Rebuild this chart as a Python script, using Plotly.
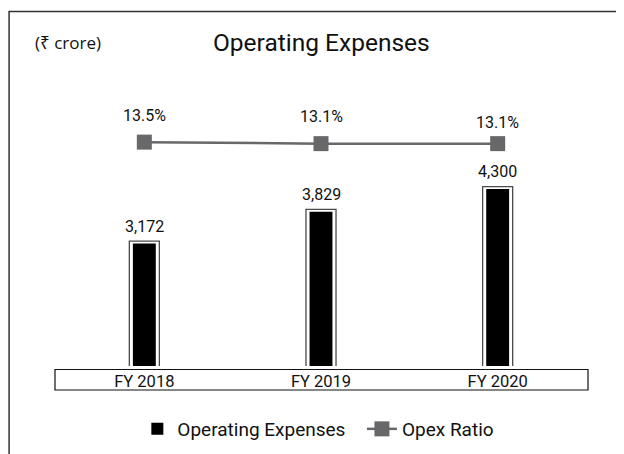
import plotly.graph_objects as go

categories = ["FY 2018", "FY 2019", "FY 2020"]
opex = [3172, 3829, 4300]
opex_ratio = [13.5, 13.1, 13.1]

FONT = "Roboto, Noto Sans, sans-serif"
UNIT_FONT = "Open Sans, Noto Sans, DejaVu Sans, sans-serif"
INK = "#111111"
GREY = "#68686b"

fig = go.Figure()

# main black bars (carry the legend entry)
fig.add_trace(go.Bar(
    x=categories, y=opex, name="Operating Expenses",
    width=0.13, marker=dict(color="#000000", line=dict(width=0)),
    legend="legend",
))
# same bars drawn with a white outline to create the inset gap
fig.add_trace(go.Bar(
    x=categories, y=opex, name="Operating Expenses",
    width=0.158, marker=dict(color="#000000", line=dict(color="#ffffff", width=5)),
    showlegend=False, hoverinfo="skip",
))
# thin outer frame around each bar
fig.add_trace(go.Bar(
    x=categories, y=opex, name="frame",
    width=0.17, marker=dict(color="rgba(0,0,0,0)", line=dict(color="#4a4a4a", width=1.3)),
    showlegend=False, hoverinfo="skip",
))
fig.add_trace(go.Scatter(
    x=categories, y=opex_ratio, name="Opex Ratio", yaxis="y2",
    mode="lines+markers",
    line=dict(color=GREY, width=2.5),
    marker=dict(symbol="square", size=15, color=GREY),
    legend="legend2",
))

# value labels
for c, v in zip(categories, opex):
    fig.add_annotation(x=c, y=v, text=f"{v:,}", showarrow=False, yshift=15,
                       font=dict(size=16, color=INK, family=FONT))
ratio_label_shift = [27, 27, 21]
for c, r, s in zip(categories, opex_ratio, ratio_label_shift):
    fig.add_annotation(x=c, y=r, yref="y2", text=f"{r:.1f}%", showarrow=False,
                       yshift=s, font=dict(size=16, color=INK, family=FONT))

# page offset (body margin) and layout in reference pixels
OFF = 8
W, H = 616, 446
L, R, T, B = 47.5, 37.5, 52, 88
pw, ph = W - L - R, H - T - B

def px(x):
    return (x - OFF - L) / pw

def py(y):
    return (H - B - (y - OFF)) / ph

shapes = [
    # outer frame
    dict(type="rect", xref="paper", yref="paper", x0=px(8.5), x1=px(640), y0=py(480), y1=py(11.5),
         line=dict(color="#333333", width=1.5), fillcolor="rgba(0,0,0,0)", layer="below"),
    # category box
    dict(type="rect", xref="paper", yref="paper", x0=px(54.5), x1=px(588.5), y0=py(390), y1=py(369.5),
         line=dict(color=INK, width=1.2), fillcolor="rgba(0,0,0,0)"),
]

fig.add_annotation(xref="paper", yref="paper", x=px(321.5), y=py(43), xanchor="center", yanchor="middle",
                   text="Operating Expenses", showarrow=False,
                   font=dict(size=24.5, color=INK, family=FONT))
fig.add_annotation(xref="paper", yref="paper", x=px(32), y=py(43), xanchor="left", yanchor="middle",
                   text="(₹ crore)", showarrow=False,
                   font=dict(size=17, color=INK, family=UNIT_FONT))

K = 0.04837  # px per unit
Y0 = 590

legend_font = dict(size=19, family=FONT, color=INK)
fig.update_layout(
    width=W, height=H,
    margin=dict(l=L, r=R, t=T, b=B, autoexpand=False),
    paper_bgcolor="white", plot_bgcolor="white",
    barmode="overlay",
    shapes=shapes,
    font=dict(family=FONT, color=INK),
    xaxis=dict(showgrid=False, showline=False, zeroline=False, ticks="", automargin=False,
               tickfont=dict(size=16.5, family=FONT, color=INK), ticklabelstandoff=3),
    yaxis=dict(range=[Y0, Y0 + ph / K], visible=False, showgrid=False, zeroline=False),
    yaxis2=dict(range=[-46.2, 35.4], overlaying="y", visible=False, showgrid=False, zeroline=False),
    legend=dict(orientation="h", x=px(137), xanchor="left", y=py(429), yanchor="middle",
                font=legend_font, itemwidth=30, bgcolor="rgba(0,0,0,0)"),
    legend2=dict(orientation="h", x=px(362), xanchor="left", y=py(429), yanchor="middle",
                 font=legend_font, itemwidth=30, bgcolor="rgba(0,0,0,0)"),
    showlegend=True,
)

fig.write_html("out.html")
